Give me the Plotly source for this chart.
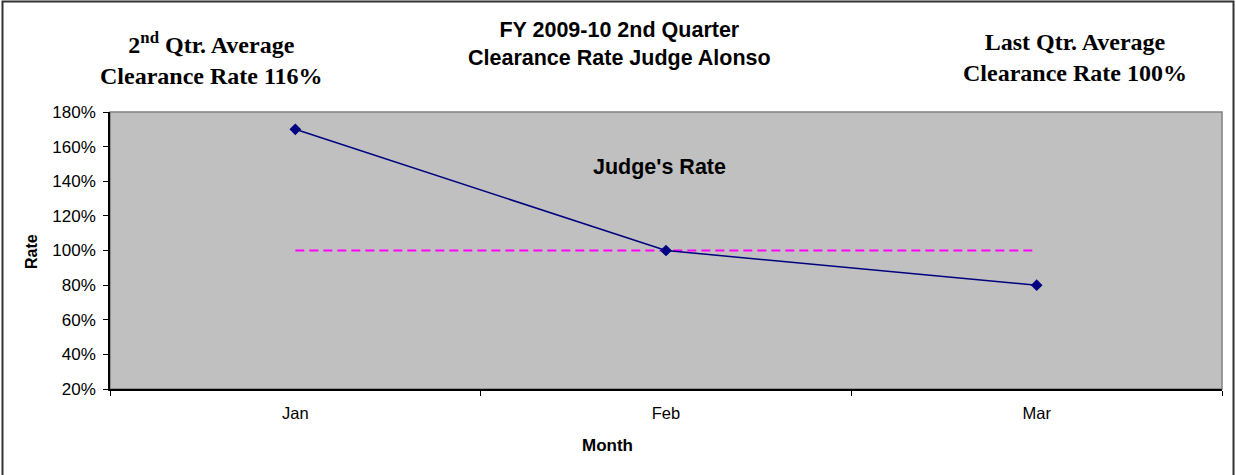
import plotly.graph_objects as go

# ------------------------------------------
# DATA
# ------------------------------------------
MONTHS = ["Jan", "Feb", "Mar"]
JUDGE_RATE = [1.70, 1.00, 0.80]
LAST_QTR_AVG = [1.00, 1.00, 1.00]
Y_TICKS = [0.2, 0.4, 0.6, 0.8, 1.0, 1.2, 1.4, 1.6, 1.8]

# ------------------------------------------
# STYLING
# ------------------------------------------
W, H = 1236, 475
ML, MR, MT, MB = 110, 14, 112, 86
PW, PH = W - ML - MR, H - MT - MB
SANS = "Liberation Sans, Arial, sans-serif"
SERIF = "Liberation Serif, Times New Roman, serif"


def px_x(x):
    return (x - ML) / PW


def px_y(y):
    return 1 - (y - MT) / PH


fig = go.Figure()

# Vorquartal-Durchschnitt (gestrichelt)
fig.add_trace(go.Scatter(
    x=MONTHS, y=LAST_QTR_AVG, mode="lines",
    line=dict(color="#FF00FF", width=2, dash="9px,5px"),
    showlegend=False, hoverinfo="skip"
))

# Richter-Rate
fig.add_trace(go.Scatter(
    x=MONTHS, y=JUDGE_RATE, mode="lines+markers",
    line=dict(color="#000080", width=1.5),
    marker=dict(symbol="diamond", size=9, color="#000080"),
    showlegend=False
))

# Rahmen Plotbereich (oben/rechts grau)
fig.add_shape(type="rect", xref="paper", yref="paper", x0=0, x1=1, y0=0, y1=1,
              line=dict(color="#808080", width=1.5), layer="below")
# Aeusserer Rahmen (unten abgeschnitten)
fig.add_shape(type="rect", xref="paper", yref="paper",
              x0=px_x(2.5), x1=px_x(1233.5), y0=px_y(490), y1=px_y(1.5),
              line=dict(color="#333333", width=2))

annos = [
    dict(x=px_x(619), y=px_y(44), text="<b>FY 2009-10 2nd Quarter<br>Clearance Rate Judge Alonso</b>",
         font=dict(family=SANS, size=21.5, color="black")),
    dict(x=px_x(211), y=px_y(59), text="<b>2<sup>nd</sup> Qtr. Average<br>Clearance Rate 116%</b>",
         font=dict(family=SERIF, size=24, color="black")),
    dict(x=px_x(1075), y=px_y(58), text="<b>Last Qtr. Average<br>Clearance Rate 100%</b>",
         font=dict(family=SERIF, size=24, color="black")),
    dict(x=px_x(659), y=px_y(167), text="<b>Judge's Rate</b>",
         font=dict(family=SANS, size=21.5, color="black")),
    dict(x=px_x(31), y=px_y(252), text="<b>Rate</b>", textangle=-90,
         font=dict(family=SANS, size=16, color="black")),
    dict(x=px_x(607), y=px_y(445), text="<b>Month</b>",
         font=dict(family=SANS, size=17, color="black")),
]
for a in annos:
    fig.add_annotation(xref="paper", yref="paper", showarrow=False,
                       xanchor="center", yanchor="middle", **a)

fig.update_layout(
    width=W, height=H,
    margin=dict(l=ML, r=MR, t=MT, b=MB),
    paper_bgcolor="white",
    plot_bgcolor="#C0C0C0",
    font=dict(family=SANS, size=16.5, color="black"),
    xaxis=dict(
        type="category", range=[-0.5, 2.5],
        tickson="boundaries", ticks="outside", ticklen=5, tickcolor="black",
        showline=True, linecolor="black", linewidth=1.5,
        showgrid=False, zeroline=False, ticklabelstandoff=8,
        tickfont=dict(family=SANS, size=16.5),
    ),
    yaxis=dict(
        range=[0.2, 1.8], tickvals=Y_TICKS, tickformat=".0%",
        ticks="outside", ticklen=5, tickcolor="black",
        showline=True, linecolor="black", linewidth=1.5,
        showgrid=False, zeroline=False, ticklabelstandoff=4,
        tickfont=dict(family=SANS, size=17),
    ),
)

fig.write_html("out.html", config={"displayModeBar": False},
               post_script="document.body.style.margin='0';")
